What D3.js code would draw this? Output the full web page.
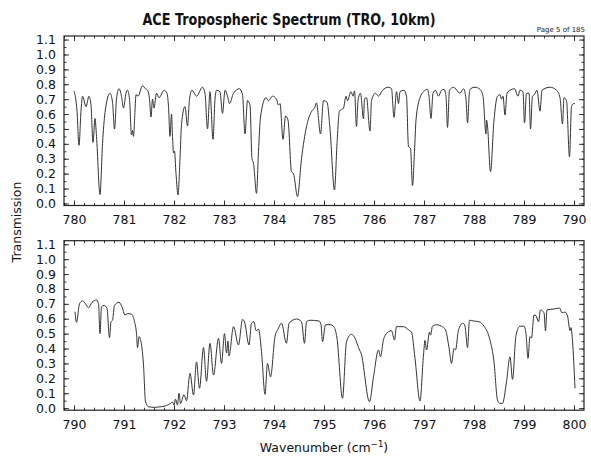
<!DOCTYPE html>
<html><head><meta charset="utf-8">
<script src="https://cdn.jsdelivr.net/npm/d3@7"></script>
<style>body{margin:0;background:#fff;} svg{display:block;font-family:"DejaVu Sans",sans-serif;}</style>
</head><body>
<svg id="c" width="591" height="459"></svg>
<script>
const title = "ACE Tropospheric Spectrum (TRO, 10km)";
const pageLabel = "Page 5 of 185";
const yLabel = "Transmission";
const topTicks = [780,781,782,783,784,785,786,787,788,789,790];
const botTicks = [790,791,792,793,794,795,796,797,798,799,800];
const yTicks = [0.0,0.1,0.2,0.3,0.4,0.5,0.6,0.7,0.8,0.9,1.0,1.1];

const topWn = [780.00,780.06,780.10,780.14,780.17,780.24,780.30,780.34,780.38,780.42,780.45,780.52,780.57,780.62,780.72,780.77,780.81,780.85,780.90,780.95,780.99,781.04,781.07,781.11,781.15,781.17,781.19,781.22,781.24,781.28,781.37,781.43,781.47,781.51,781.54,781.57,781.60,781.65,781.70,781.80,781.86,781.89,781.92,781.95,781.97,781.99,782.01,782.04,782.08,782.12,782.15,782.22,782.27,782.31,782.36,782.45,782.57,782.62,782.67,782.72,782.78,782.82,782.85,782.92,782.97,783.02,783.07,783.11,783.19,783.31,783.37,783.42,783.47,783.52,783.56,783.59,783.65,783.69,783.73,783.84,783.89,783.97,784.05,784.09,784.12,784.18,784.23,784.28,784.35,784.39,784.47,784.55,784.65,784.77,784.81,784.85,784.93,784.99,785.06,785.12,785.21,785.26,785.31,785.39,785.44,785.47,785.54,785.58,785.61,785.65,785.68,785.73,785.79,785.81,785.85,785.92,785.95,786.03,786.09,786.17,786.29,786.35,786.40,786.45,786.49,786.52,786.60,786.65,786.69,786.73,786.77,786.81,786.84,786.92,786.99,787.07,787.10,787.14,787.18,787.23,787.29,787.35,787.40,787.44,787.47,787.51,787.59,787.72,787.79,787.84,787.87,787.91,787.93,788.02,788.12,788.18,788.24,788.25,788.27,788.33,788.40,788.47,788.52,788.55,788.58,788.62,788.66,788.72,788.81,788.88,788.92,788.98,789.01,789.05,789.10,789.13,789.17,789.21,789.26,789.32,789.36,789.52,789.65,789.72,789.77,789.80,789.85,789.91,789.95,789.99,790.02];
const topT = [0.755,0.62,0.39,0.62,0.72,0.65,0.72,0.66,0.41,0.57,0.45,0.06,0.40,0.61,0.74,0.68,0.50,0.70,0.77,0.72,0.64,0.74,0.76,0.70,0.46,0.49,0.45,0.62,0.73,0.72,0.79,0.77,0.76,0.70,0.58,0.70,0.64,0.74,0.71,0.76,0.74,0.65,0.45,0.60,0.45,0.34,0.35,0.20,0.057,0.30,0.53,0.65,0.52,0.70,0.76,0.72,0.78,0.74,0.50,0.75,0.43,0.70,0.76,0.75,0.605,0.76,0.72,0.67,0.74,0.77,0.73,0.466,0.69,0.66,0.30,0.27,0.068,0.35,0.58,0.71,0.69,0.72,0.70,0.66,0.67,0.43,0.587,0.56,0.213,0.20,0.045,0.30,0.515,0.627,0.64,0.675,0.466,0.69,0.68,0.50,0.09,0.40,0.62,0.64,0.72,0.69,0.75,0.72,0.755,0.515,0.69,0.74,0.567,0.70,0.71,0.486,0.69,0.74,0.72,0.76,0.78,0.77,0.578,0.75,0.67,0.75,0.76,0.72,0.38,0.37,0.12,0.35,0.56,0.71,0.75,0.766,0.72,0.57,0.74,0.76,0.72,0.76,0.766,0.72,0.51,0.76,0.78,0.74,0.77,0.70,0.54,0.75,0.77,0.78,0.766,0.72,0.466,0.56,0.52,0.213,0.56,0.72,0.73,0.70,0.72,0.594,0.74,0.76,0.77,0.72,0.76,0.75,0.54,0.74,0.74,0.50,0.72,0.73,0.76,0.62,0.76,0.78,0.76,0.71,0.533,0.71,0.69,0.313,0.65,0.67,0.67];

const botWn = [790.02,790.05,790.11,790.17,790.23,790.29,790.36,790.45,790.49,790.52,790.55,790.60,790.66,790.71,790.74,790.77,790.81,790.90,790.96,791.02,791.08,791.15,791.21,791.25,791.27,791.30,791.33,791.39,791.43,791.49,791.60,791.70,791.80,791.85,791.92,791.97,792.00,792.03,792.07,792.10,792.13,792.20,792.25,792.32,792.39,792.45,792.51,792.59,792.65,792.72,792.79,792.89,792.95,793.01,793.05,793.08,793.10,793.19,793.29,793.37,793.41,793.50,793.55,793.60,793.64,793.69,793.75,793.82,793.87,793.93,794.02,794.08,794.15,794.25,794.30,794.45,794.55,794.61,794.65,794.72,794.90,794.94,794.97,795.03,795.13,795.19,795.26,795.37,795.45,795.55,795.62,795.71,795.74,795.91,795.99,796.09,796.13,796.19,796.29,796.35,796.41,796.45,796.59,796.69,796.75,796.82,796.92,796.99,797.02,797.05,797.11,797.13,797.17,797.25,797.35,797.43,797.50,797.55,797.60,797.63,797.69,797.78,797.82,797.87,797.91,797.99,798.10,798.20,798.32,798.40,798.47,798.52,798.57,798.65,798.72,798.77,798.84,798.92,799.00,799.04,799.08,799.12,799.15,799.20,799.24,799.29,799.33,799.40,799.43,799.46,799.59,799.71,799.76,799.82,799.87,799.92,799.94,799.97,800.02];
const botT = [0.647,0.576,0.70,0.72,0.70,0.674,0.71,0.726,0.70,0.50,0.68,0.69,0.67,0.473,0.58,0.59,0.69,0.71,0.68,0.625,0.635,0.63,0.58,0.50,0.406,0.48,0.46,0.29,0.043,0.01,0.005,0.008,0.012,0.017,0.03,0.04,0.02,0.06,0.02,0.10,0.03,0.09,0.05,0.234,0.088,0.31,0.133,0.406,0.18,0.435,0.222,0.469,0.30,0.50,0.37,0.45,0.35,0.547,0.424,0.596,0.58,0.424,0.57,0.58,0.52,0.53,0.38,0.093,0.30,0.21,0.48,0.53,0.57,0.435,0.57,0.598,0.58,0.435,0.58,0.59,0.585,0.56,0.446,0.56,0.56,0.55,0.47,0.066,0.446,0.496,0.47,0.39,0.37,0.043,0.21,0.39,0.345,0.46,0.513,0.52,0.457,0.547,0.547,0.525,0.51,0.334,0.048,0.357,0.455,0.39,0.51,0.49,0.55,0.56,0.55,0.525,0.406,0.30,0.40,0.39,0.525,0.57,0.55,0.406,0.59,0.585,0.58,0.55,0.457,0.31,0.054,0.032,0.032,0.177,0.345,0.193,0.49,0.55,0.55,0.50,0.334,0.48,0.47,0.625,0.62,0.58,0.659,0.64,0.518,0.66,0.665,0.672,0.64,0.645,0.62,0.52,0.54,0.45,0.133];

const svg = d3.select("#c");
const x0 = 64, x1 = 584;
const panels = [
  {wn: topWn, t: topT, dom: [779.8, 790.2], ticks: topTicks, yTop: 36, yBot: 205.5},
  {wn: botWn, t: botT, dom: [789.8, 800.2], ticks: botTicks, yTop: 240.7, yBot: 410.2}
];
const ink = "#222";

panels.forEach(p => {
  const x = d3.scaleLinear().domain(p.dom).range([x0, x1]);
  const y = d3.scaleLinear().domain([-0.014, 1.124]).range([p.yBot, p.yTop]);
  const g = svg.append("g");
  const minorX = d3.range(p.dom[0] + 0.0001, p.dom[1], 0.2).map(v => Math.round(v * 5) / 5).filter(v => v >= p.dom[0] && v <= p.dom[1]);
  const minorY = d3.range(0, 1.125, 0.05).map(v => Math.round(v * 100) / 100);
  const ax = (gen, tr) => g.append("g").attr("transform", tr).call(gen);
  ax(d3.axisBottom(x).tickValues(minorX).tickSize(-2.5).tickFormat(""), `translate(0,${p.yBot})`);
  ax(d3.axisTop(x).tickValues(minorX).tickSize(-2.5).tickFormat(""), `translate(0,${p.yTop})`);
  ax(d3.axisLeft(y).tickValues(minorY).tickSize(-2.5).tickFormat(""), `translate(${x0},0)`);
  ax(d3.axisRight(y).tickValues(minorY).tickSize(-2.5).tickFormat(""), `translate(${x1},0)`);
  ax(d3.axisBottom(x).tickValues(p.ticks).tickSize(-5).tickPadding(10).tickFormat(d3.format("d")), `translate(0,${p.yBot})`);
  ax(d3.axisTop(x).tickValues(p.ticks).tickSize(-5).tickFormat(""), `translate(0,${p.yTop})`);
  ax(d3.axisLeft(y).tickValues(yTicks).tickSize(-5).tickPadding(8).tickFormat(d3.format(".1f")), `translate(${x0},0)`);
  ax(d3.axisRight(y).tickValues(yTicks).tickSize(-5).tickFormat(""), `translate(${x1},0)`);
  g.selectAll(".domain").remove();
  g.selectAll(".tick line").attr("stroke", ink).attr("stroke-width", 0.9);
  g.selectAll(".tick text").attr("fill", "#111").style("font-size", "12.5px").style("font-family", "'DejaVu Sans',sans-serif");
  g.append("rect").attr("x", x0).attr("y", p.yTop).attr("width", x1 - x0).attr("height", p.yBot - p.yTop)
    .attr("fill", "none").attr("stroke", ink).attr("stroke-width", 1.2);
  const data = p.wn.map((w, i) => [w, p.t[i]]);
  const line = d3.line().x(d => x(d[0])).y(d => y(d[1])).curve(d3.curveMonotoneX);
  g.append("path").datum(data).attr("d", line).attr("fill", "none").attr("stroke", "#333").attr("stroke-width", 1);
});

svg.append("text").attr("x", 289).attr("y", 25).attr("text-anchor", "middle")
  .attr("textLength", 293).attr("lengthAdjust", "spacingAndGlyphs")
  .style("font-size", "16px").style("font-weight", "bold").attr("fill", "#111").text(title);
svg.append("text").attr("x", 585).attr("y", 32).attr("text-anchor", "end")
  .style("font-size", "7px").attr("fill", "#222").text(pageLabel);
svg.append("text").attr("transform", "translate(21,222) rotate(-90)").attr("text-anchor", "middle")
  .style("font-size", "12.5px").attr("fill", "#111").text(yLabel);
const xl = svg.append("text").attr("x", 324).attr("y", 452).attr("text-anchor", "middle")
  .style("font-size", "12.5px").attr("fill", "#111");
xl.append("tspan").text("Wavenumber (cm");
xl.append("tspan").attr("dy", -5).style("font-size", "8.5px").text("\u22121");
xl.append("tspan").attr("dy", 5).text(")");
</script>
</body></html>
